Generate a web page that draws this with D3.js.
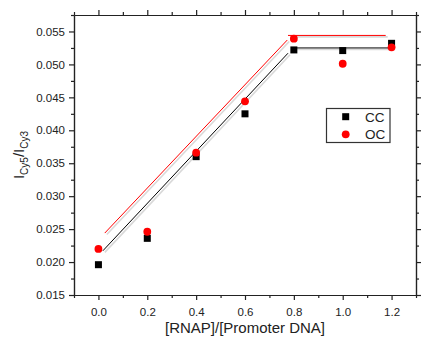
<!DOCTYPE html>
<html>
<head>
<meta charset="utf-8">
<script src="https://cdn.jsdelivr.net/npm/d3@7"></script>
<style>
  html, body { margin: 0; padding: 0; background: #fff; }
  svg { display: block; font-family: Arial, "Liberation Sans", sans-serif; }
</style>
</head>
<body>
<svg id="chart" width="421" height="345"></svg>
<script>
// Ratio of RNAP to promoter DNA
const ratios = [0.0, 0.2, 0.4, 0.6, 0.8, 1.0, 1.2];
// Cy5/Cy3 intensity ratio, closed complex and open complex
const ccValues = [0.0196, 0.0236, 0.0360, 0.0425, 0.0522, 0.0521, 0.0532];
const ocValues = [0.0220, 0.0246, 0.0366, 0.0444, 0.0539, 0.0501, 0.0526];

// Piecewise linear fits (rising segment, then plateau)
const ccFitRise = [[0.018, 0.0217], [0.776, 0.0517]];
const ccFitFlat = [[0.800, 0.0525], [1.198, 0.0525]];
const ocFitRise = [[0.026, 0.0244], [0.773, 0.0537]];
const ocFitFlat = [[0.776, 0.0544], [1.176, 0.0544]];

const xTicks = [0.0, 0.2, 0.4, 0.6, 0.8, 1.0, 1.2];
const xMinor = [-0.1, 0.1, 0.3, 0.5, 0.7, 0.9, 1.1, 1.3];
const yTicks = [0.015, 0.020, 0.025, 0.030, 0.035, 0.040, 0.045, 0.050, 0.055];
const yMinor = [0.0175, 0.0225, 0.0275, 0.0325, 0.0375, 0.0425, 0.0475, 0.0525, 0.0575];

const seriesNames = ["CC", "OC"];
const seriesColors = ["#000000", "#ff0000"];

const svg = d3.select("#chart");
const m = { left: 74, right: 416, top: 15, bottom: 295 };

const x = d3.scaleLinear().domain([-0.1, 1.3]).range([m.left, m.right]);
const y = d3.scaleLinear().domain([0.015, 0.0575]).range([m.bottom, m.top]);

const axisColor = "#222";
const fmt = d3.format(".1f");
const fmtY = d3.format(".3f");

function styleAxis(g) {
  g.selectAll("path, line").attr("stroke", axisColor).attr("stroke-width", 1.2);
  g.selectAll("text").attr("fill", "#222").attr("font-size", "11.5px")
    .attr("font-family", "Arial, 'Liberation Sans', sans-serif");
}

// Major axes
svg.append("g").attr("transform", `translate(0,${m.bottom})`)
  .call(d3.axisBottom(x).tickValues(xTicks).tickFormat(fmt).tickSize(5).tickSizeOuter(0).tickPadding(8))
  .call(styleAxis);
svg.append("g").attr("transform", `translate(0,${m.top})`)
  .call(d3.axisTop(x).tickValues(xTicks).tickFormat("").tickSize(5).tickSizeOuter(0))
  .call(styleAxis);
svg.append("g").attr("transform", `translate(${m.left},0)`)
  .call(d3.axisLeft(y).tickValues(yTicks).tickFormat(fmtY).tickSize(5).tickSizeOuter(0).tickPadding(4))
  .call(styleAxis);
svg.append("g").attr("transform", `translate(${m.right},0)`)
  .call(d3.axisRight(y).tickValues(yTicks).tickFormat("").tickSize(5).tickSizeOuter(0))
  .call(styleAxis);

// Minor ticks
svg.append("g").attr("transform", `translate(0,${m.bottom})`)
  .call(d3.axisBottom(x).tickValues(xMinor).tickFormat("").tickSize(3).tickSizeOuter(0))
  .call(styleAxis);
svg.append("g").attr("transform", `translate(0,${m.top})`)
  .call(d3.axisTop(x).tickValues(xMinor).tickFormat("").tickSize(3).tickSizeOuter(0))
  .call(styleAxis);
svg.append("g").attr("transform", `translate(${m.left},0)`)
  .call(d3.axisLeft(y).tickValues(yMinor).tickFormat("").tickSize(3).tickSizeOuter(0))
  .call(styleAxis);
svg.append("g").attr("transform", `translate(${m.right},0)`)
  .call(d3.axisRight(y).tickValues(yMinor).tickFormat("").tickSize(3).tickSizeOuter(0))
  .call(styleAxis);

// Axis titles
svg.append("text")
  .attr("x", (m.left + m.right) / 2).attr("y", 333)
  .attr("text-anchor", "middle").attr("font-size", "15px").attr("fill", "#222")
  .text("[RNAP]/[Promoter DNA]");

const yt = svg.append("text")
  .attr("transform", `translate(24,${(m.top + m.bottom) / 2}) rotate(-90)`)
  .attr("text-anchor", "middle").attr("font-size", "15px").attr("fill", "#222");
yt.append("tspan").text("I");
yt.append("tspan").attr("font-size", "10px").attr("dy", 4).text("Cy5");
yt.append("tspan").attr("dy", -4).text("/I");
yt.append("tspan").attr("font-size", "10px").attr("dy", 4).text("Cy3");

// Fit lines with a soft shadow
const line = d3.line().x(d => x(d[0])).y(d => y(d[1]));
const fits = [
  { segs: [ccFitRise, ccFitFlat], color: seriesColors[0] },
  { segs: [ocFitRise, ocFitFlat], color: seriesColors[1] }
];
fits.forEach(f => {
  f.segs.forEach(s => {
    svg.append("path").attr("d", line(s)).attr("fill", "none")
      .attr("stroke", "#d9d9d9").attr("stroke-width", 1.6)
      .attr("transform", "translate(2,1.5)");
  });
});
fits.forEach(f => {
  f.segs.forEach(s => {
    svg.append("path").attr("d", line(s)).attr("fill", "none")
      .attr("stroke", f.color).attr("stroke-width", 1);
  });
});

// Data markers
const sq = 7;
svg.append("g").selectAll("rect").data(ratios.map((r, i) => [r, ccValues[i]]))
  .join("rect")
  .attr("x", d => x(d[0]) - sq / 2).attr("y", d => y(d[1]) - sq / 2)
  .attr("width", sq).attr("height", sq).attr("fill", seriesColors[0]);
svg.append("g").selectAll("circle").data(ratios.map((r, i) => [r, ocValues[i]]))
  .join("circle")
  .attr("cx", d => x(d[0])).attr("cy", d => y(d[1])).attr("r", 3.9)
  .attr("fill", seriesColors[1]);

// Legend
const lg = svg.append("g");
lg.append("rect").attr("x", 326.5).attr("y", 108.5).attr("width", 63.5).attr("height", 34)
  .attr("fill", "#fff").attr("stroke", "#333").attr("stroke-width", 1.2);
lg.append("rect").attr("x", 345.7 - 3.5).attr("y", 116.7 - 3.5).attr("width", 7).attr("height", 7)
  .attr("fill", seriesColors[0]);
lg.append("circle").attr("cx", 345.7).attr("cy", 134.3).attr("r", 3.9).attr("fill", seriesColors[1]);
lg.selectAll("text.lbl").data(seriesNames).join("text").attr("class", "lbl")
  .attr("x", 365).attr("y", (d, i) => 121.5 + i * 17.6)
  .attr("font-size", "13.5px").attr("fill", "#222").text(d => d);
</script>
</body>
</html>
